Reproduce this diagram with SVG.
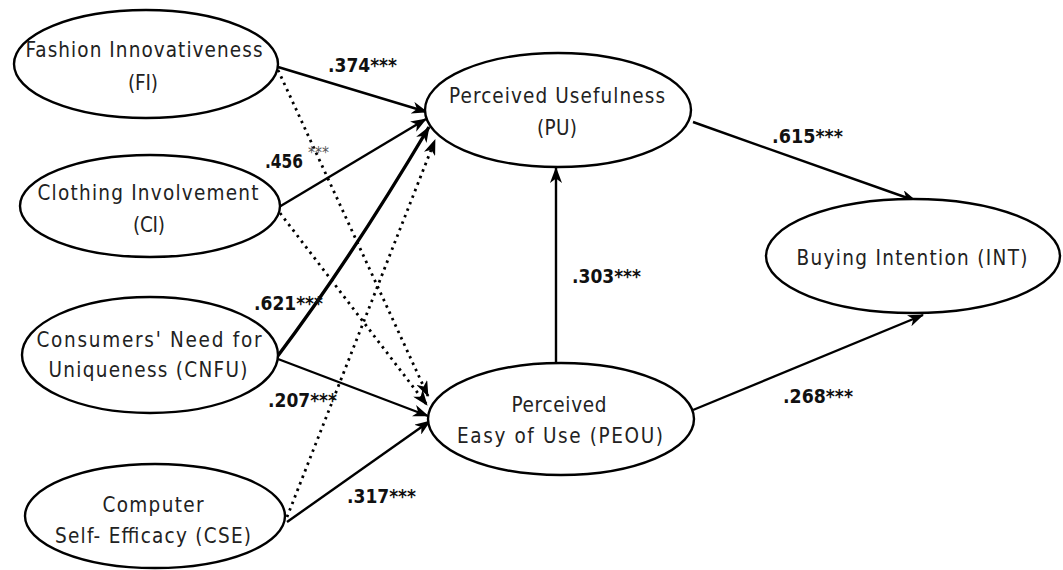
<svg xmlns="http://www.w3.org/2000/svg" width="1063" height="570" viewBox="0 0 1063 570">
  <style>
    .node ellipse { fill: #ffffff; stroke: #000000; stroke-width: 2.4; }
    .node text { font-family: "DejaVu Sans Condensed", "Liberation Sans Narrow", "Liberation Sans", sans-serif; font-size: 20.5px; fill: #222222; text-anchor: middle; }
    .edge { fill: none; stroke: #000000; stroke-width: 2.4; }
    .thick { stroke-width: 3.4; }
    .dot { stroke-width: 2.8; stroke-dasharray: 2.5 4.5; }
    .coef { font-family: "DejaVu Sans Condensed", "Liberation Sans Narrow", "Liberation Sans", sans-serif; font-size: 20px; font-weight: bold; fill: #111111; }
    .sup { font-family: "DejaVu Sans Condensed", "Liberation Sans", sans-serif; font-size: 15px; fill: #555555; }
  </style>
  <defs>
    <marker id="arrow" viewBox="0 0 16 12" refX="15" refY="6" markerWidth="16" markerHeight="12" markerUnits="userSpaceOnUse" orient="auto">
      <path d="M0,0 L16,6 L0,12 L4.5,6 z" fill="#000000"/>
    </marker>
  </defs>

  <rect width="1063" height="570" fill="#ffffff"/>

  <!-- connectors -->
  <g id="connectors">
    <!-- dotted (non-significant) paths -->
    <line class="edge dot" x1="278" y1="70" x2="428" y2="396" marker-end="url(#arrow)"/>
    <line class="edge dot" x1="280" y1="213" x2="427" y2="405" marker-end="url(#arrow)"/>
    <line class="edge dot" x1="287" y1="517" x2="435" y2="140" marker-end="url(#arrow)"/>
    <!-- solid paths -->
    <line class="edge" x1="278" y1="67" x2="427" y2="112" marker-end="url(#arrow)"/>
    <line class="edge" x1="279" y1="207" x2="426" y2="119" marker-end="url(#arrow)"/>
    <path class="edge thick" d="M277,357 Q350,260 429,127" marker-end="url(#arrow)"/>
    <line class="edge" x1="278" y1="359" x2="428" y2="416" marker-end="url(#arrow)"/>
    <line class="edge" x1="287" y1="522" x2="430" y2="421" marker-end="url(#arrow)"/>
    <line class="edge" x1="556" y1="363" x2="556" y2="168" marker-end="url(#arrow)"/>
    <line class="edge" x1="693" y1="122" x2="916" y2="201" marker-end="url(#arrow)"/>
    <line class="edge" x1="693" y1="410" x2="923" y2="315" marker-end="url(#arrow)"/>
  </g>

  <!-- path coefficients -->
  <g id="labels">
    <text class="coef" x="328" y="72" textLength="69" lengthAdjust="spacingAndGlyphs">.374***</text>
    <text class="coef" x="265" y="168" textLength="38" lengthAdjust="spacingAndGlyphs">.456</text>
    <text class="sup" x="308" y="158" textLength="21" lengthAdjust="spacingAndGlyphs">***</text>
    <text class="coef" x="254" y="310" textLength="69" lengthAdjust="spacingAndGlyphs">.621***</text>
    <text class="coef" x="268" y="407" textLength="69" lengthAdjust="spacingAndGlyphs">.207***</text>
    <text class="coef" x="347" y="503" textLength="69" lengthAdjust="spacingAndGlyphs">.317***</text>
    <text class="coef" x="572" y="283" textLength="69" lengthAdjust="spacingAndGlyphs">.303***</text>
    <text class="coef" x="772" y="143" textLength="71" lengthAdjust="spacingAndGlyphs">.615***</text>
    <text class="coef" x="783" y="403" textLength="70" lengthAdjust="spacingAndGlyphs">.268***</text>
  </g>

  <!-- constructs -->
  <g id="node-FI" class="node">
    <ellipse cx="146" cy="64" rx="132" ry="54"/>
    <text x="144" y="57" textLength="237" lengthAdjust="spacing">Fashion Innovativeness</text>
    <text x="143" y="90" textLength="30" lengthAdjust="spacing">(FI)</text>
  </g>
  <g id="node-CI" class="node">
    <ellipse cx="150" cy="206" rx="130" ry="51"/>
    <text x="148" y="200" textLength="221" lengthAdjust="spacing">Clothing Involvement</text>
    <text x="149" y="232" textLength="32" lengthAdjust="spacing">(CI)</text>
  </g>
  <g id="node-CNFU" class="node">
    <ellipse cx="150" cy="355" rx="128" ry="58"/>
    <text x="149" y="347" textLength="225" lengthAdjust="spacing">Consumers' Need for</text>
    <text x="148" y="377" textLength="199" lengthAdjust="spacing">Uniqueness (CNFU)</text>
  </g>
  <g id="node-CSE" class="node">
    <ellipse cx="155" cy="516" rx="130" ry="52"/>
    <text x="153" y="512" textLength="101" lengthAdjust="spacing">Computer</text>
    <text x="153" y="543" textLength="196" lengthAdjust="spacing">Self- Efficacy (CSE)</text>
  </g>
  <g id="node-PU" class="node">
    <ellipse cx="558" cy="110" rx="133" ry="57"/>
    <text x="557" y="103" textLength="216" lengthAdjust="spacing">Perceived Usefulness</text>
    <text x="557" y="135" textLength="40" lengthAdjust="spacing">(PU)</text>
  </g>
  <g id="node-PEOU" class="node">
    <ellipse cx="561" cy="419" rx="133" ry="56"/>
    <text x="559" y="412" textLength="95" lengthAdjust="spacing">Perceived</text>
    <text x="560" y="443" textLength="206" lengthAdjust="spacing">Easy of Use (PEOU)</text>
  </g>
  <g id="node-INT" class="node">
    <ellipse cx="913" cy="256" rx="147" ry="57"/>
    <text x="912" y="265" textLength="231" lengthAdjust="spacing">Buying Intention (INT)</text>
  </g>
</svg>
